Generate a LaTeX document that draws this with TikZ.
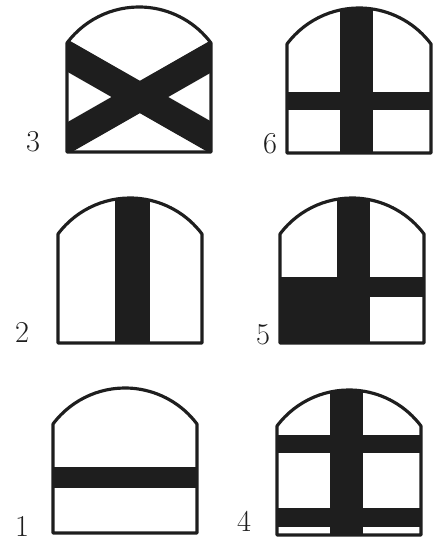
\documentclass[tikz,border=0pt]{standalone}
\usepackage{xcolor}
\usepackage{tikz}
\definecolor{inkDark}{RGB}{30,30,30}
\newcommand{\shieldpath}{(0,0) -- (0,109) arc[start angle=143.13,end angle=36.87,radius=90] -- (144,0) -- cycle}

\begin{document}
\begin{tikzpicture}[scale=0.02,font=\LARGE,
  outline/.style={draw=inkDark,line width=1.8pt,line join=round},
  band/.style={fill=inkDark},
  num/.style={text=inkDark,inner sep=0pt}]
\useasboundingbox (0,0) rectangle (437,545);
% --- 3: saltire ---
\begin{scope}[shift={(67,393)}]
\begin{scope}
\clip \shieldpath;
\draw[inkDark,line width=16pt] (-20,108) -- (164,3);
\draw[inkDark,line width=16pt] (-20,2) -- (164,107);
\end{scope}
\draw[outline] \shieldpath;
\end{scope}
\node[num] (n3) at (33,403) {3};
% --- 6: cross ---
\begin{scope}[shift={(287,392)}]
\begin{scope}
\clip \shieldpath;
\fill[band] (53,-5) rectangle (86,150);
\fill[band] (-5,43) rectangle (150,61);
\end{scope}
\draw[outline] \shieldpath;
\end{scope}
\node[num] (n6) at (270,401) {6};
% --- 2: pale ---
\begin{scope}[shift={(58,202)}]
\begin{scope}
\clip \shieldpath;
\fill[band] (57,-5) rectangle (92,150);
\end{scope}
\draw[outline] \shieldpath;
\end{scope}
\node[num] (n2) at (22,213) {2};
% --- 5: cross, lower left filled ---
\begin{scope}[shift={(280,202)}]
\begin{scope}
\clip \shieldpath;
\fill[band] (57,-5) rectangle (90,150);
\fill[band] (-5,46) rectangle (150,66);
\fill[band] (-5,-5) rectangle (90,66);
\end{scope}
\draw[outline] \shieldpath;
\end{scope}
\node[num] (n5) at (263,210) {5};
% --- 1: fess ---
\begin{scope}[shift={(53,12)}]
\begin{scope}
\clip \shieldpath;
\fill[band] (-5,45) rectangle (150,66);
\end{scope}
\draw[outline] \shieldpath;
\end{scope}
\node[num] (n1) at (22,19) {1};
% --- 4: pale with two bars ---
\begin{scope}[shift={(277,10)}]
\begin{scope}
\clip \shieldpath;
\fill[band] (53,-5) rectangle (86,150);
\fill[band] (-5,82) rectangle (150,100);
\fill[band] (-5,8) rectangle (150,27);
\end{scope}
\draw[outline] \shieldpath;
\end{scope}
\node[num] (n4) at (244,24) {4};
\end{tikzpicture}
\end{document}
